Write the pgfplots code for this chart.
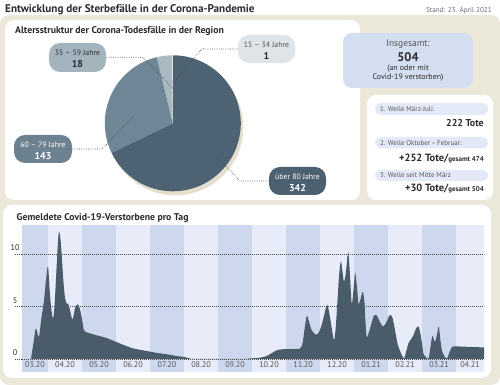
\documentclass[border=0pt]{standalone}
\usepackage{pgfplots}
\pgfplotsset{compat=1.18}
\usepackage{pgfplotstable}
\usepackage{fontspec}
\setmainfont{PT Sans}
\newcommand\fs[1]{\fontsize{#1}{#1}\selectfont}
\definecolor{bg}{HTML}{EBE8DA}
\definecolor{boxblue}{HTML}{D4DEF1}
\definecolor{pill}{HTML}{E3E9F6}
\definecolor{stripeD}{HTML}{CDD8EE}
\definecolor{stripeL}{HTML}{E7ECF8}
\definecolor{area}{HTML}{4A5C69}
\definecolor{pA}{HTML}{4D6272}
\definecolor{pB}{HTML}{6E8696}
\definecolor{pC}{HTML}{A9B9C2}
\definecolor{pD}{HTML}{DDE3E6}
\definecolor{bubA}{HTML}{4D6070}
\definecolor{bubB}{HTML}{6C8290}
\definecolor{bubC}{HTML}{A3B4BF}
\definecolor{bubD}{HTML}{DFE4E9}
\definecolor{txt}{HTML}{2B2B2B}
\definecolor{greytxt}{HTML}{6A6A6A}
\definecolor{midtxt}{HTML}{555555}
\definecolor{shadow}{HTML}{E4DFCC}
\definecolor{gridc}{HTML}{4A4A4A}

\pgfplotstableread{
m v
0.50 0
0.57 1.5
0.64 2.9
0.70 2.3
0.74 2.2
0.81 4.0
0.88 5.5
0.94 7.5
1.00 8.8
1.06 6.0
1.12 4.2
1.16 4.0
1.20 5.5
1.24 8.0
1.29 11.0
1.32 12.1
1.36 11.6
1.40 10.0
1.45 7.5
1.50 5.8
1.55 5.3
1.60 5.2
1.65 4.6
1.70 3.9
1.73 3.8
1.76 4.3
1.80 4.9
1.86 5.2
1.90 5.1
1.95 4.6
2.00 3.8
2.05 2.8
2.09 2.6
2.33 2.35
2.55 2.15
2.72 2.0
2.87 1.8
3.02 1.6
3.25 1.3
3.51 1.0
3.75 0.85
4.00 0.7
4.25 0.55
4.49 0.45
4.75 0.3
4.98 0.2
5.15 0.08
5.32 0
6.70 0
6.94 0.05
7.23 0.12
7.43 0.28
7.55 0.5
7.68 0.75
7.82 0.9
8.10 0.95
8.41 1.0
8.49 1.6
8.55 3.0
8.61 4.1
8.67 3.6
8.76 2.7
8.90 2.3
9.00 2.8
9.10 3.9
9.18 5.0
9.22 5.1
9.28 4.2
9.34 3.0
9.41 1.8
9.46 3.0
9.51 5.5
9.56 8.0
9.61 9.3
9.66 8.3
9.70 7.4
9.75 8.0
9.80 9.6
9.83 10.2
9.87 8.5
9.93 5.3
9.98 6.5
10.03 8.2
10.08 7.0
10.13 5.3
10.19 5.7
10.25 6.4
10.30 5.6
10.33 3.8
10.37 2.1
10.44 2.6
10.52 3.5
10.58 4.1
10.65 4.2
10.72 3.8
10.80 3.3
10.86 3.1
10.95 3.5
11.03 4.1
11.07 4.2
11.13 3.9
11.19 3.0
11.25 1.9
11.30 1.2
11.40 0.4
11.47 0.05
11.53 0.7
11.60 1.5
11.68 1.9
11.75 2.3
11.82 2.9
11.89 3.1
11.94 2.6
12.00 1.4
12.04 0.5
12.12 0.15
12.19 0.05
12.24 1.0
12.30 2.2
12.35 1.8
12.38 1.65
12.43 2.2
12.49 3.1
12.53 2.0
12.58 0.85
12.65 0.3
12.73 0.05
12.80 0.6
12.88 1.15
13.00 1.2
13.40 1.15
13.82 1.1
}\deaths

\def\vA{342}\def\vB{143}\def\vC{18}\def\vD{1}

\begin{document}
\begin{tikzpicture}
\pgfmathsetmacro\aA{90-\vA/504*360}
\pgfmathsetmacro\aB{\aA-\vB/504*360}
\pgfmathsetmacro\aC{\aB-\vC/504*360}
\pgfmathsetmacro\aD{\aC-\vD/504*360}
\path[use as bounding box] (0bp,0bp) rectangle (500bp,385bp);
\begin{scope}[yshift=385bp,x=1bp,y=-1bp]
\fill[bg, rounded corners=9bp] (0,15) rectangle (500,385);
\fill[white, rounded corners=9bp] (5,20) rectangle (360,200);
\fill[white, rounded corners=9bp] (367,95) rectangle (493,200);
\fill[boxblue, rounded corners=9bp] (343,33) rectangle (473,88);
\fill[white, rounded corners=9bp] (3,205) rectangle (491,378);
\node[anchor=base west, inner sep=0, txt] at (5,13) {\fs{11.2}\bfseries Entwicklung der Sterbefälle in der Corona-Pandemie};
\node[anchor=base east, inner sep=0, greytxt] at (492,12.5) {\fs{7.2}Stand: 23. April 2021};
\node[anchor=base west, inner sep=0, txt] at (15,34) {\fs{9.8}\bfseries Altersstruktur der Corona-Todesfälle in der Region};
\node[anchor=base west, inner sep=0, txt] at (16.5,221) {\fs{9.8}\bfseries Gemeldete Covid-19-Verstorbene pro Tag};
\fill[shadow] (175.3,127.3) circle[radius=68bp];
% Insgesamt box
\node[inner sep=0, midtxt] at (408,44.3) {\fs{9.5}Insgesamt:};
\node[inner sep=0, txt] at (408,57.5) {\fs{12.5}\bfseries 504};
\node[inner sep=0, txt] at (408,68.3) {\fs{8}(an oder mit};
\node[inner sep=0, txt] at (408,77.3) {\fs{8}Covid-19 verstorben)};
% waves
\fill[pill, rounded corners=6bp] (375,103) rectangle (488,115);
\fill[pill, rounded corners=6bp] (375,137) rectangle (488,148.5);
\fill[pill, rounded corners=6bp] (375,170) rectangle (488,181);
\node[anchor=west, inner sep=0, midtxt] at (380,109.2) {\fs{7}1. Welle März-Juli:};
\node[anchor=east, inner sep=0, txt] at (484,123.5) {\fs{10}\bfseries 222 Tote};
\node[anchor=west, inner sep=0, midtxt] at (380,142.6) {\fs{7}2. Welle Oktober\,–\,Februar:};
\node[anchor=east, inner sep=0, txt] at (484,158.3) {{\fs{10.5}\bfseries +252 Tote/}{\fs{7}\bfseries gesamt 474}};
\node[anchor=west, inner sep=0, midtxt] at (380,175.5) {\fs{7}3. Welle seit Mitte März};
\node[anchor=east, inner sep=0, txt] at (484,189) {{\fs{10.5}\bfseries +30 Tote/}{\fs{7}\bfseries gesamt 504}};
% grid extensions left of the plot area
\draw[gridc, line width=0.7bp, dash pattern=on 0.7bp off 1.3bp] (15,359) -- (22,359);
\draw[gridc, line width=0.7bp, dash pattern=on 0.7bp off 1.3bp] (15,306.5) -- (22,306.5);
\draw[gridc, line width=0.7bp, dash pattern=on 0.7bp off 1.3bp] (15,254) -- (22,254);
\end{scope}

% pie chart
\begin{axis}[at={(104.8bp,193.7bp)}, anchor=south west, scale only axis,
  width=136bp, height=136bp, xmin=-1, xmax=1, ymin=-1, ymax=1,
  hide axis, clip=false]
\fill[pA] (axis cs:0,0) -- ++(90:68bp) arc[start angle=90, end angle=\aA, radius=68bp] -- cycle;
\fill[pB] (axis cs:0,0) -- ++(\aA:68bp) arc[start angle=\aA, end angle=\aB, radius=68bp] -- cycle;
\fill[pC] (axis cs:0,0) -- ++(\aB:68bp) arc[start angle=\aB, end angle=\aC, radius=68bp] -- cycle;
\fill[pD] (axis cs:0,0) -- ++(\aC:68bp) arc[start angle=\aC, end angle=\aD, radius=68bp] -- cycle;
\end{axis}

\begin{scope}[yshift=385bp,x=1bp,y=-1bp]
\tikzset{lead/.style={gridc, line width=0.6bp, dash pattern=on 0.6bp off 1.2bp}}
\draw[lead] (238,49) -- (201.7,49) -- (172.7,83.3);
\draw[lead] (106,57.3) -- (143,57.3) -- (172.7,88.3);
\draw[lead] (72,149) -- (102,149) -- (133.3,116.7);
\draw[lead] (269,181) -- (240,181) -- (213.3,153.3);
\fill[bubD, rounded corners=11bp] (238,35) rectangle (295,63);
\fill[bubC, rounded corners=11bp] (49,43) rectangle (106,72);
\fill[bubB, rounded corners=11bp] (14,135) rectangle (72,163);
\fill[bubA, rounded corners=11bp] (269,167) rectangle (326,195);
\node[inner sep=0, midtxt] at (266.5,44.3) {\fs{7.8}15 – 34 Jahre};
\node[inner sep=0, txt] at (266.5,55.5) {\fs{10}\bfseries 1};
\node[inner sep=0, txt] at (77.5,52.5) {\fs{7.8}35 – 59 Jahre};
\node[inner sep=0, txt] at (77.5,64) {\fs{10}\bfseries 18};
\node[inner sep=0, white] at (43,144.3) {\fs{7.8}60 – 79 Jahre};
\node[inner sep=0, white] at (43,155.7) {\fs{10}\bfseries 143};
\node[inner sep=0, white] at (297.5,176.7) {\fs{7.8}über 80 Jahre};
\node[inner sep=0, white] at (297.5,188.3) {\fs{10}\bfseries 342};
\end{scope}

% daily deaths
\begin{axis}[at={(22bp,13bp)}, anchor=south west, scale only axis,
  width=462bp, height=147bp,
  xmin=0.235, xmax=13.82, ymin=-1.24, ymax=12.76,
  axis on top,
  axis line style={draw=none}, tick style={draw=none}, major tick length=0,
  ytick={0,5,10},
  xtick={0.618,1.5,2.5,3.5,4.5,5.5,6.5,7.5,8.5,9.5,10.5,11.5,12.5,13.41},
  xticklabels={03.20,04.20,05.20,06.20,07.20,08.20,09.20,10.20,11.20,12.20,01.21,02.21,03.21,04.21},
  xticklabel style={anchor=center, yshift=7bp, font=\fs{8.2}, text=midtxt},
  yticklabel style={anchor=center, xshift=-7bp, yshift=6bp, font=\fs{8.2}, text=txt},
  /pgf/number format/assume math mode=true,
  clip=true]
\fill[stripeL] (axis cs:0,-1.24) rectangle (axis cs:14,12.76);
\fill[stripeD] (axis cs:0,-1.24) rectangle (axis cs:1,12.76);
\fill[stripeD] (axis cs:2,-1.24) rectangle (axis cs:3,12.76);
\fill[stripeD] (axis cs:4,-1.24) rectangle (axis cs:5,12.76);
\fill[stripeD] (axis cs:6,-1.24) rectangle (axis cs:7,12.76);
\fill[stripeD] (axis cs:8,-1.24) rectangle (axis cs:9,12.76);
\fill[stripeD] (axis cs:10,-1.24) rectangle (axis cs:11,12.76);
\fill[stripeD] (axis cs:12,-1.24) rectangle (axis cs:13,12.76);
\draw[gridc, line width=0.7bp, dash pattern=on 0.7bp off 1.3bp] (axis cs:0.235,0) -- (axis cs:13.82,0);
\draw[gridc, line width=0.7bp, dash pattern=on 0.7bp off 1.3bp] (axis cs:0.235,5) -- (axis cs:13.82,5);
\draw[gridc, line width=0.7bp, dash pattern=on 0.7bp off 1.3bp] (axis cs:0.235,10) -- (axis cs:13.82,10);
\addplot[fill=area, draw=none, smooth, tension=0.5] table[x=m,y=v]{\deaths} \closedcycle;
\end{axis}
\end{tikzpicture}
\end{document}
